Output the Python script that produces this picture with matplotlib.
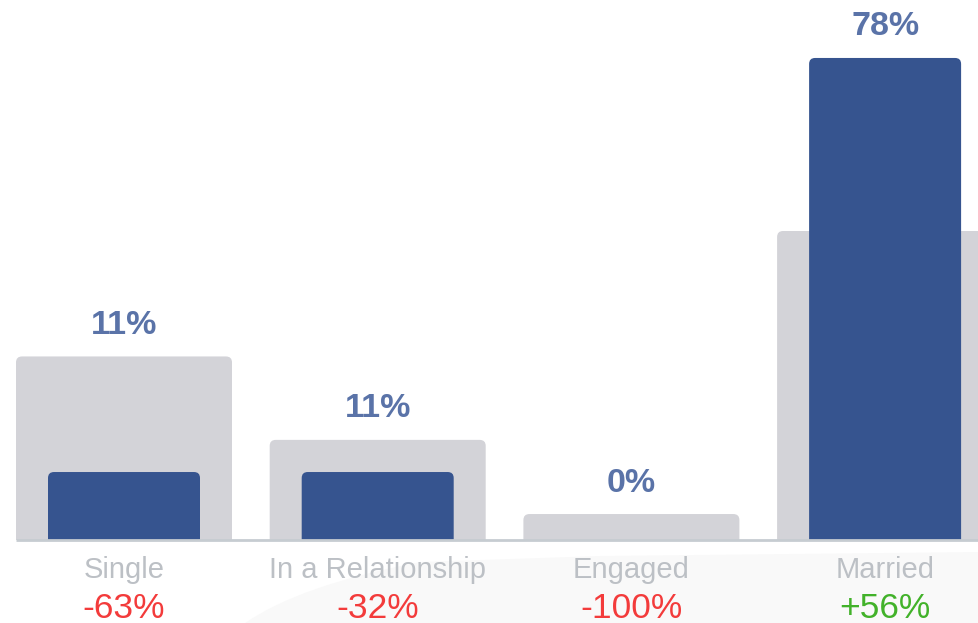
import matplotlib
matplotlib.use("Agg")
import matplotlib.pyplot as plt
from matplotlib.patches import FancyBboxPatch, PathPatch
from matplotlib.path import Path

# Relationship status: selected audience vs. all users (percent)
categories = ["Single", "In a Relationship", "Engaged", "Married"]
audience = [11, 11, 0, 78]
baseline = [29.7, 16.2, 4.2, 50.0]
changes = ["-63%", "-32%", "-100%", "+56%"]

BLUE = "#36548f"
BLUE_TEXT = "#5a73a8"
GREY = "#d3d3d8"
CAT_TEXT = "#bcc0c5"
RED = "#f33b3b"
GREEN = "#42b22a"
AXIS = "#c6ccd1"

plt.rcParams["font.family"] = ["Liberation Sans", "DejaVu Sans"]

W, H = 979, 623
fig = plt.figure(figsize=(W / 100, H / 100), dpi=100)
fig.patch.set_facecolor("white")

# faint backdrop under the lower labels
verts = [(245, 623), (300, 585), (420, 562), (600, 556), (979, 552),
         (979, 623), (245, 623)]
codes = [Path.MOVETO, Path.CURVE3, Path.CURVE3, Path.LINETO, Path.LINETO,
         Path.LINETO, Path.CLOSEPOLY]
bg = Path([(x / W, 1 - y / H) for x, y in verts], codes)
fig.patches.append(PathPatch(bg, transform=fig.transFigure,
                             facecolor="#f9f9f9", edgecolor="none", zorder=-5))

base_px = 540
px_per_unit_y = 6.18
spacing = 253.7
first_center = 124

ax = fig.add_axes([0, (H - base_px) / H, 1, base_px / H])
ax.set_zorder(2)
ax.set_xlim(-first_center / spacing, (W - first_center) / spacing)
ax.set_ylim(0, base_px / px_per_unit_y)
ax.axis("off")
ax.patch.set_alpha(0)

grey_w = 216 / spacing
blue_w = 152 / spacing
radius = 6 / spacing
aspect = spacing / px_per_unit_y


def rounded_bar(xc, width, height, color, z):
    if height <= 0:
        return
    p = FancyBboxPatch((xc - width / 2, -2), width, height + 2,
                       boxstyle=f"round,pad=0,rounding_size={radius}",
                       mutation_aspect=aspect,
                       facecolor=color, edgecolor="none", zorder=z)
    ax.add_patch(p)


for i, cat in enumerate(categories):
    rounded_bar(i, grey_w, baseline[i], GREY, 2)
    rounded_bar(i, blue_w, audience[i], BLUE, 3)
    top = max(baseline[i], audience[i])
    ax.text(i, top + 31 / px_per_unit_y, f"{audience[i]}%", ha="center",
            va="center", fontsize=24.5, fontweight="bold", color=BLUE_TEXT,
            clip_on=False)
    ax.text(i, -30 / px_per_unit_y, cat, ha="center", va="center",
            fontsize=21, color=CAT_TEXT, clip_on=False)
    ax.text(i, -68 / px_per_unit_y, changes[i], ha="center", va="center",
            fontsize=25.5, color=GREEN if changes[i].startswith("+") else RED,
            clip_on=False)

ax.plot([-grey_w / 2, ax.get_xlim()[1]], [0, 0], color=AXIS, lw=2,
        zorder=4, clip_on=False, solid_capstyle="butt")

fig.savefig("out.png", dpi=100)
